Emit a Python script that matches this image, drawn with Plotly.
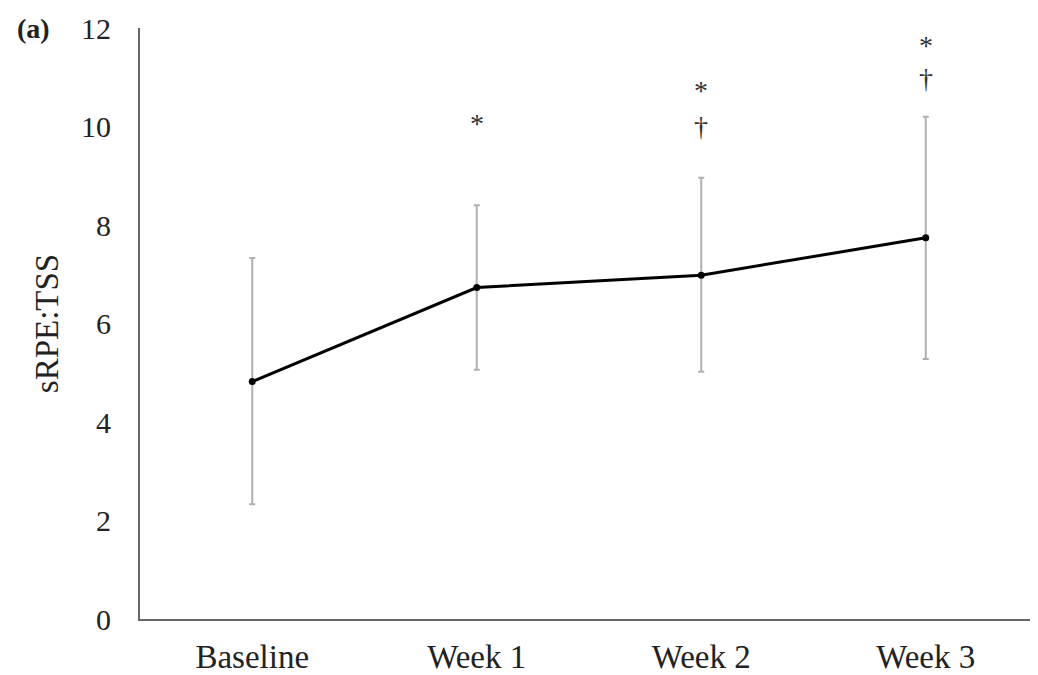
import plotly.graph_objects as go

categories = ["Baseline", "Week 1", "Week 2", "Week 3"]
means = [4.82, 6.73, 6.98, 7.74]
sd_upper = [2.51, 1.67, 1.98, 2.46]
sd_lower = [2.49, 1.67, 1.96, 2.46]
y_ticks = [0, 2, 4, 6, 8, 10, 12]
# significance markers: (category, symbol, y position in data units)
sig_cats = ["Week 1", "Week 2", "Week 2", "Week 3", "Week 3"]
sig_syms = ["*", "*", "†", "*", "†"]
sig_y = [10.07, 10.73, 10.0, 11.65, 10.98]

FONT = "Liberation Serif"

fig = go.Figure()
fig.add_trace(go.Scatter(
    x=categories, y=means, mode="lines+markers",
    line=dict(color="black", width=3),
    marker=dict(color="black", size=7),
    error_y=dict(type="data", symmetric=False, array=sd_upper, arrayminus=sd_lower,
                 color="#b0b0b0", thickness=2, width=3),
    showlegend=False,
))

for c, s, y in zip(sig_cats, sig_syms, sig_y):
    fig.add_annotation(x=c, y=y, text=s, showarrow=False, yanchor="middle",
                       font=dict(family=FONT, size=28, color="#333333"))

fig.add_annotation(xref="paper", yref="paper", x=-0.139, y=1.0, xanchor="left",
                   yanchor="middle", text="<b>(a)</b>", showarrow=False,
                   font=dict(family=FONT, size=28, color="#222222"))

fig.update_layout(
    width=1030, height=667,
    margin=dict(l=132, r=0, t=20, b=53),
    paper_bgcolor="white", plot_bgcolor="white",
    font=dict(family=FONT, size=29, color="#222222"),
)
fig.update_xaxes(
    type="category", range=[-0.5, 3.5],
    showline=True, linecolor="#666666", linewidth=2,
    showgrid=False, ticks="outside", ticklen=7, tickcolor="rgba(0,0,0,0)",
    tickfont=dict(family=FONT, size=33, color="#222222"),
)
fig.update_yaxes(
    range=[0, 12], tickvals=y_ticks,
    showline=True, linecolor="#666666", linewidth=2,
    showgrid=False, zeroline=False, ticks="outside", ticklen=21,
    tickcolor="rgba(0,0,0,0)",
    tickfont=dict(family=FONT, size=30, color="#222222"),
    title=dict(text="sRPE:TSS", font=dict(family=FONT, size=33, color="#222222"), standoff=12),
)

fig.write_html("out.html")
